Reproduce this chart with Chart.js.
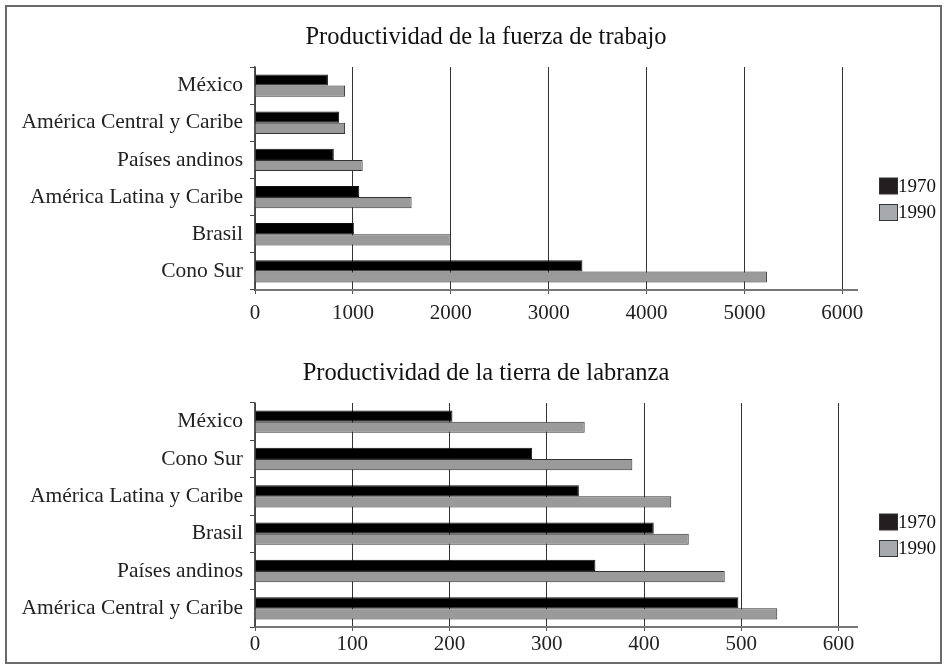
<!DOCTYPE html>
<html>
<head>
<meta charset="utf-8">
<script src="https://cdn.jsdelivr.net/npm/chart.js@4"></script>
<style>
  html, body { margin: 0; padding: 0; background: #fff; }
  #page { position: relative; width: 948px; height: 664px; overflow: hidden; }
  #frame { position: absolute; left: 5px; top: 5px; width: 933px; height: 655px; border: 2px solid #6a6a6a; }
  .box { position: absolute; left: 0; width: 948px; }
  #top-box { top: 0; height: 332px; }
  #bottom-box { top: 336px; height: 328px; }
</style>
</head>
<body>
<div id="page">
  <div id="frame"></div>
  <div class="box" id="top-box"><canvas id="laborChart" width="948" height="332"></canvas></div>
  <div class="box" id="bottom-box"><canvas id="landChart" width="948" height="328"></canvas></div>
</div>
<script>
const seriesLabels = ["1970", "1990"];

const laborTitle = "Productividad de la fuerza de trabajo";
const laborCategories = ["México", "América Central y Caribe", "Países andinos", "América Latina y Caribe", "Brasil", "Cono Sur"];
const labor1970 = [745, 860, 805, 1065, 1010, 3345];
const labor1990 = [920, 920, 1100, 1600, 2000, 5230];
const laborTicks = [0, 1000, 2000, 3000, 4000, 5000, 6000];

const landTitle = "Productividad de la tierra de labranza";
const landCategories = ["México", "Cono Sur", "América Latina y Caribe", "Brasil", "Países andinos", "América Central y Caribe"];
const land1970 = [203, 285, 333, 410, 350, 497];
const land1990 = [339, 388, 428, 446, 483, 537];
const landTicks = [0, 100, 200, 300, 400, 500, 600];

const SERIF = '"Liberation Serif", "Times New Roman", serif';
const barColors = ["#000000", "#9a9a9a"];
const legendColors = ["#231f20", "#a7a9ac"];

// title + legend drawn by hand so the plot area keeps its place
const titleLegend = {
  id: "titleLegend",
  afterDraw(chart, args, opts) {
    const ctx = chart.ctx;
    ctx.save();
    ctx.fillStyle = "#111";
    ctx.font = `24.5px ${SERIF}`;
    ctx.textAlign = "center";
    ctx.textBaseline = "middle";
    ctx.fillText(opts.text, opts.x, opts.y);

    ctx.font = `19px ${SERIF}`;
    ctx.textAlign = "left";
    chart.data.datasets.forEach((ds, i) => {
      const cy = opts.legendY + i * 26.5;
      ctx.fillStyle = legendColors[i];
      ctx.fillRect(879.5, cy - 8, 18, 16);
      ctx.strokeStyle = "#333";
      ctx.lineWidth = 1;
      ctx.strokeRect(879.5, cy - 8, 18, 16);
      ctx.fillStyle = "#111";
      ctx.fillText(ds.label, 898, cy + 1);
    });
    ctx.restore();
  }
};

function makeChart(id, title, categories, a, b, ticks, max, plotTop, axisHeight, labelPad) {
  return new Chart(document.getElementById(id), {
    type: "bar",
    data: {
      labels: categories,
      datasets: [
        { label: seriesLabels[0], data: a, backgroundColor: barColors[0], borderColor: "#111", borderWidth: 1 },
        { label: seriesLabels[1], data: b, backgroundColor: barColors[1], borderColor: "#333", borderWidth: 1 }
      ]
    },
    options: {
      indexAxis: "y",
      responsive: false,
      animation: false,
      devicePixelRatio: 1,
      categoryPercentage: 0.6,
      barPercentage: 1.0,
      layout: { padding: { top: plotTop, right: 91, left: 0, bottom: 0 } },
      plugins: {
        legend: { display: false },
        title: { display: false },
        tooltip: { enabled: false },
        titleLegend: { text: title, x: 486, y: 38, legendY: 186 }
      },
      scales: {
        x: {
          min: 0,
          max: max,
          afterBuildTicks: scale => { scale.ticks = ticks.map(v => ({ value: v })); },
          afterFit: scale => { scale.height = axisHeight; },
          border: { color: "#777", width: 2 },
          grid: { color: "#333", lineWidth: 1, drawTicks: true, tickLength: 4, tickColor: "#555" },
          ticks: {
            color: "#222",
            padding: labelPad,
            maxRotation: 0,
            autoSkip: false,
            callback: v => String(v),
            font: { family: SERIF, size: 21, lineHeight: 1 }
          }
        },
        y: {
          afterFit: scale => { scale.width = 255; },
          border: { color: "#555", width: 1.5 },
          grid: { drawOnChartArea: false, drawTicks: true, tickLength: 5, tickColor: "#444" },
          ticks: {
            color: "#222",
            padding: 7,
            font: { family: SERIF, size: 21.5 }
          }
        }
      }
    },
    plugins: [titleLegend]
  });
}

makeChart("laborChart", laborTitle, laborCategories, labor1970, labor1990, laborTicks, 6150, 67, 42, 9);
makeChart("landChart", landTitle, landCategories, land1970, land1990, landTicks, 619, 67, 37, 3);
</script>
</body>
</html>
